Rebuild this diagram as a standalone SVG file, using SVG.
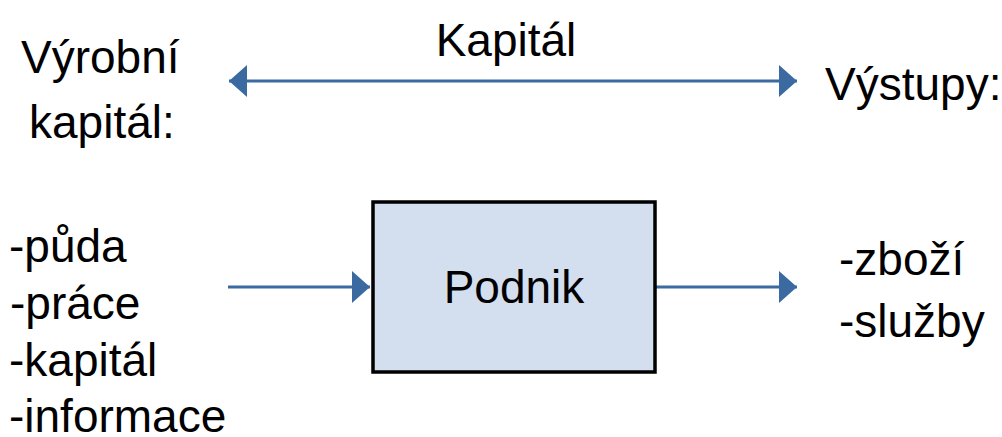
<svg xmlns="http://www.w3.org/2000/svg" width="1002" height="437" viewBox="0 0 1002 437">
  <style>
    text { font-family: "Liberation Sans", Arial, sans-serif; font-size: 46px; fill: #000; }
    .flow { stroke: #3a6aa0; stroke-width: 3; fill: none; }
    .box { fill: #d3deee; stroke: #000; stroke-width: 3.5; }
  </style>
  <defs>
    <marker id="head" viewBox="0 0 18 32" refX="18" refY="16" markerWidth="18" markerHeight="32" markerUnits="userSpaceOnUse" orient="auto-start-reverse">
      <path d="M0,0 L18,16 L0,32 Z" fill="#3a6aa0"/>
    </marker>
  </defs>

  <rect width="1002" height="437" fill="#fff"/>

  <!-- connectors -->
  <g id="connectors">
    <line class="flow" x1="229" y1="81" x2="797" y2="81" marker-start="url(#head)" marker-end="url(#head)"/>
    <line class="flow" x1="228" y1="287" x2="370" y2="287" marker-end="url(#head)"/>
    <line class="flow" x1="656" y1="287" x2="797" y2="287" marker-end="url(#head)"/>
  </g>

  <g id="kapital-label">
    <text x="506" y="56" text-anchor="middle">Kapitál</text>
  </g>

  <g id="vyrobni-kapital">
    <text x="21" y="73">Výrobní</text>
    <text x="29" y="138">kapitál:</text>
    <text x="9" y="262">-půda</text>
    <text x="10" y="319">-práce</text>
    <text x="9" y="376">-kapitál</text>
    <text x="9" y="432">-informace</text>
  </g>

  <g id="podnik">
    <rect class="box" x="373" y="202" width="282" height="170"/>
    <text x="514" y="303" text-anchor="middle">Podnik</text>
  </g>

  <g id="vystupy">
    <text x="825" y="100">Výstupy:</text>
    <text x="839" y="275">-zboží</text>
    <text x="839" y="337">-služby</text>
  </g>
</svg>
